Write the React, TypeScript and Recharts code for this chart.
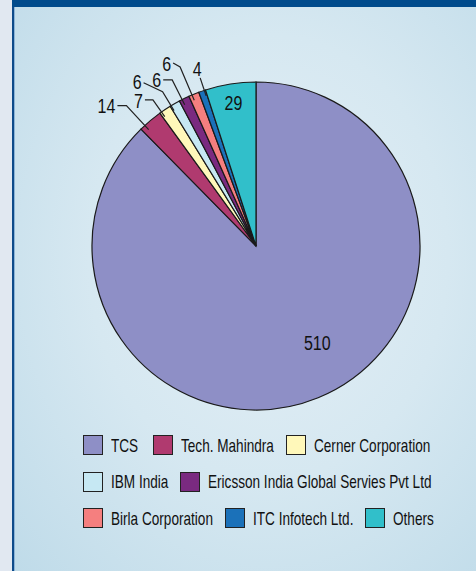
import React from 'react';
import { PieChart, Pie, Cell, Legend } from 'recharts';

const categories = [
  'TCS',
  'Tech. Mahindra',
  'Cerner Corporation',
  'IBM India',
  'Ericsson India Global Servies Pvt Ltd',
  'Birla Corporation',
  'ITC Infotech Ltd.',
  'Others',
];
const values = [510, 14, 7, 6, 6, 6, 4, 29];
const sliceColors = ['#8e8fc6', '#b03a6f', '#fff8ba', '#c6e8f3', '#7a2a80', '#f57f7f', '#1b71b9', '#31bfca'];
const legendRows = [
  ['TCS', 'Tech. Mahindra', 'Cerner Corporation'],
  ['IBM India', 'Ericsson India Global Servies Pvt Ltd'],
  ['Birla Corporation', 'ITC Infotech Ltd.', 'Others'],
];

const data = categories.map((name, i) => ({ name, value: values[i] }));

// no condensed face installed, so squeeze a regular sans horizontally
const FONT = "'Liberation Sans', Arial, sans-serif";
const LEGEND_SIZE = 19;
const LEGEND_SQUEEZE = 0.715;
const LABEL_SIZE = 20;
const LABEL_SQUEEZE = 0.8;
const RAD = Math.PI / 180;

// where each value label sits: inside the slice, or out on a leader line
// ext = elbow distance past the rim (fraction of radius), turn = degrees nudge
const labelLayout: Record<string, any> = {
  'TCS': { inside: 0.7, turn: 10 },
  'Others': { inside: 0.88, turn: 0 },
  'Tech. Mahindra': { ext: 0.165, turn: 2.5, dx: -9, dy: 0, ty: 1 },
  'Cerner Corporation': { ext: 0.09, turn: 1.5, dx: -8, dy: 0, ty: 1 },
  'IBM India': { ext: 0.1, turn: 1.5, dx: -19, dy: -9, ty: -0.5 },
  'Ericsson India Global Servies Pvt Ltd': { ext: 0.134, turn: 0.8, dx: -9, dy: 0, ty: 0 },
  'Birla Corporation': { ext: 0.186, turn: 0.7, dx: -7, dy: -4, ty: 1 },
  'ITC Infotech Ltd.': { ext: 0.08, turn: -0.8, above: 0.137 },
};

const polar = (cx: number, cy: number, r: number, angle: number) => ({
  x: cx + r * Math.cos(-angle * RAD),
  y: cy + r * Math.sin(-angle * RAD),
});

const Num = ({ x, y, anchor, children }: any) => (
  <text
    transform={`translate(${x},${y}) scale(${LABEL_SQUEEZE},1)`}
    textAnchor={anchor}
    dominantBaseline="central"
    fontFamily={FONT}
    fontSize={LABEL_SIZE}
    fill="#111"
  >
    {children}
  </text>
);

const renderLabel = (props: any) => {
  const { cx, cy, midAngle, outerRadius, value } = props;
  const name = props.name ?? props.payload?.name;
  const cfg = labelLayout[name];
  if (!cfg) return null;
  const angle = midAngle + cfg.turn;
  if (cfg.inside) {
    const p = polar(cx, cy, outerRadius * cfg.inside, angle);
    return <Num x={p.x} y={p.y} anchor="middle">{value}</Num>;
  }
  const start = polar(cx, cy, outerRadius * 0.965, angle);
  const elbow = polar(cx, cy, outerRadius * (1 + cfg.ext), angle);
  if (cfg.above) {
    const t = polar(cx, cy, outerRadius * (1 + cfg.above), angle);
    return (
      <g>
        <line x1={start.x} y1={start.y} x2={elbow.x} y2={elbow.y} stroke="#222" strokeWidth={1.2} />
        <Num x={t.x} y={t.y} anchor="middle">{value}</Num>
      </g>
    );
  }
  const end = { x: elbow.x + cfg.dx, y: elbow.y + cfg.dy };
  return (
    <g>
      <polyline
        points={`${start.x},${start.y} ${elbow.x},${elbow.y} ${end.x},${end.y}`}
        fill="none"
        stroke="#222"
        strokeWidth={1.2}
      />
      <Num x={end.x - 2} y={end.y + cfg.ty} anchor="end">{value}</Num>
    </g>
  );
};

const colorOf = (name: string) => sliceColors[categories.indexOf(name)];

let ctx: CanvasRenderingContext2D | null = null;
const textWidth = (s: string) => {
  if (!ctx) ctx = document.createElement('canvas').getContext('2d');
  if (!ctx) return s.length * LEGEND_SIZE * 0.5;
  ctx.font = `${LEGEND_SIZE}px ${FONT}`;
  return ctx.measureText(s).width;
};

const Squeezed = ({ text }: { text: string }) => {
  const w = textWidth(text);
  return (
    <span
      style={{
        display: 'inline-block',
        whiteSpace: 'nowrap',
        lineHeight: 1,
        transform: `scaleX(${LEGEND_SQUEEZE})`,
        transformOrigin: 'left center',
        marginRight: -w * (1 - LEGEND_SQUEEZE),
      }}
    >
      {text}
    </span>
  );
};

const LegendBox = () => (
  <div style={{ fontFamily: FONT, fontSize: LEGEND_SIZE, color: '#111' }}>
    {legendRows.map((row, r) => (
      <div key={r} style={{ display: 'flex', alignItems: 'center', height: 36.5 }}>
        {row.map((name, i) => (
          <div key={name} style={{ display: 'flex', alignItems: 'center', marginRight: r === 0 && i === 0 ? 15 : 12 }}>
            <span
              style={{
                display: 'inline-block',
                boxSizing: 'border-box',
                width: 20,
                height: 20,
                background: colorOf(name),
                border: '1.5px solid #222',
                marginRight: 8,
              }}
            />
            <Squeezed text={name} />
          </div>
        ))}
      </div>
    ))}
  </div>
);

export default function App() {
  return (
    <div style={{ position: 'absolute', left: 0, top: 0, width: 476, height: 571, background: '#e1e8f1', overflow: 'hidden' }}>
      <div
        style={{
          position: 'absolute',
          left: 12,
          top: 0,
          width: 464,
          height: 571,
          boxSizing: 'border-box',
          borderLeft: '2px solid #0e4b8a',
          background: 'radial-gradient(ellipse at 55% 45%, #e4eff6 0%, #d6e8f1 50%, #bfdbe9 100%)',
        }}
      >
        <div style={{ position: 'absolute', left: 0, top: 0, width: 1, height: 571, background: '#8db4d6' }} />
        <div style={{ position: 'absolute', left: -2, top: 0, width: 466, height: 7, background: '#004b8c' }} />
      </div>
      <div style={{ position: 'absolute', left: 0, top: 0 }}>
        <PieChart width={476} height={571} margin={{ top: 0, right: 0, bottom: 0, left: 0 }}>
          <Pie
            data={data}
            dataKey="value"
            nameKey="name"
            cx={256}
            cy={246}
            outerRadius={164}
            startAngle={90}
            endAngle={-270}
            stroke="#1a1a1a"
            strokeWidth={1.2}
            label={renderLabel}
            labelLine={false}
            isAnimationActive={false}
          >
            {data.map((d, i) => (
              <Cell key={d.name} fill={sliceColors[i]} />
            ))}
          </Pie>
          <Legend content={<LegendBox />} wrapperStyle={{ left: 83, top: 427, width: 390 }} />
        </PieChart>
      </div>
    </div>
  );
}
